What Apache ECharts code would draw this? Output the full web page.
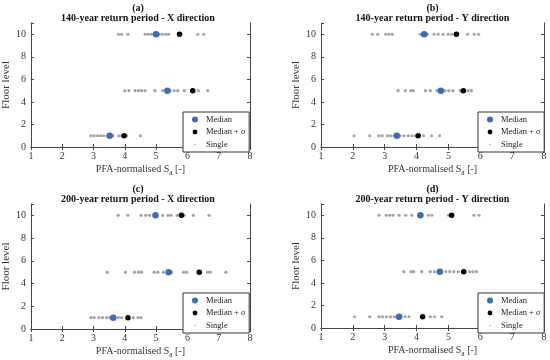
<!DOCTYPE html>
<html><head><meta charset="utf-8">
<script src="https://cdn.jsdelivr.net/npm/echarts@6/dist/echarts.min.js"></script>
<style>html,body{margin:0;padding:0;background:#fff}#c{width:550px;height:360px}</style>
</head><body><div id="c"></div>
<script>
const floors = [1, 5, 10];
const xTicks = [1, 2, 3, 4, 5, 6, 7, 8];
const yTicks = [0, 2, 4, 6, 8, 10];
const panelLetters = ['(a)', '(b)', '(c)', '(d)'];
const panelTitles = ['140-year return period - X direction', '140-year return period - Y direction',
  '200-year return period - X direction', '200-year return period - Y direction'];
const seriesNames = ['Median', 'Median + σ', 'Single'];

// medians / median+sigma per floor (order: floor 1, 5, 10)
const aMedian = [3.52, 5.36, 5.0];
const aMedianSigma = [3.98, 6.17, 5.75];
const bMedian = [3.38, 4.76, 4.24];
const bMedianSigma = [4.05, 5.47, 5.25];
const cMedian = [3.63, 5.4, 4.98];
const cMedianSigma = [4.1, 6.38, 5.81];
const dMedian = [3.45, 4.73, 4.12];
const dMedianSigma = [4.19, 5.48, 5.1];

// single records
const aSingle1 = [2.92, 3.02, 3.13, 3.23, 3.33, 3.44, 3.62, 3.81, 3.9, 4.06, 4.5];
const aSingle5 = [4.0, 4.13, 4.33, 4.44, 4.54, 4.65, 4.96, 5.21, 5.45, 5.58, 5.69, 5.9, 6.35, 6.65];
const aSingle10 = [3.8, 3.9, 4.1, 4.65, 4.75, 4.85, 4.95, 5.1, 5.21, 5.31, 5.4, 6.33, 6.52];
const bSingle1 = [2.04, 2.53, 2.82, 2.92, 3.09, 3.19, 3.3, 3.49, 3.61, 3.74, 3.86, 3.97, 4.22, 4.47, 4.72];
const bSingle5 = [3.42, 3.65, 3.82, 3.9, 4.28, 4.43, 4.64, 4.89, 5.01, 5.14, 5.37, 5.62, 5.72];
const bSingle10 = [2.61, 2.78, 3.03, 3.13, 3.24, 4.11, 4.34, 4.55, 4.68, 4.83, 4.99, 5.1, 5.6, 5.81, 5.95];
const cSingle1 = [2.92, 3.02, 3.17, 3.29, 3.42, 3.52, 3.79, 3.9, 4.27, 4.42, 4.52];
const cSingle5 = [3.44, 4.02, 4.31, 4.44, 4.54, 4.94, 5.06, 5.23, 5.5, 5.88, 5.98, 6.65, 6.73, 7.23];
const cSingle10 = [3.79, 4.1, 4.52, 4.67, 4.79, 5.0, 5.21, 5.38, 5.48, 5.67, 5.9, 6.19, 6.69];
const dSingle1 = [2.05, 2.53, 2.82, 2.93, 3.05, 3.18, 3.3, 3.51, 3.64, 3.76, 4.2, 4.43, 4.56, 4.79];
const dSingle5 = [3.6, 3.83, 3.91, 4.16, 4.43, 4.56, 4.79, 4.92, 5.04, 5.17, 5.31, 5.67, 5.77, 5.88];
const dSingle10 = [2.82, 3.05, 3.16, 3.26, 3.45, 3.66, 3.85, 4.16, 4.37, 4.48, 5.0, 5.8, 5.96];

const panels = [
  {median: aMedian, sigma: aMedianSigma, singles: [aSingle1, aSingle5, aSingle10]},
  {median: bMedian, sigma: bMedianSigma, singles: [bSingle1, bSingle5, bSingle10]},
  {median: cMedian, sigma: cMedianSigma, singles: [cSingle1, cSingle5, cSingle10]},
  {median: dMedian, sigma: dMedianSigma, singles: [dSingle1, dSingle5, dSingle10]}
];

const FONT = 'Liberation Serif';
const AX = '#444';
const grids = [
  {left: 26, top: 23, width: 224, height: 124},
  {left: 321, top: 23, width: 223, height: 124},
  {left: 26, top: 204, width: 224, height: 125},
  {left: 321, top: 204, width: 223, height: 124}
];
const legendPos = [
  {left: 183, top: 112}, {left: 478, top: 112}, {left: 183, top: 293}, {left: 478, top: 293}
];

const xAxis = [], yAxis = [], series = [], titles = [], legends = [];
grids.forEach((g, i) => {
  const common = {min: xTicks[0], max: xTicks[xTicks.length - 1], interval: 1, gridIndex: i, splitLine: {show: false},
    axisLine: {lineStyle: {color: AX, width: 1}}, axisTick: {inside: true, length: 3, lineStyle: {color: AX}}};
  xAxis.push(Object.assign({}, common, {type: 'value', position: 'bottom',
    axisLabel: {fontFamily: FONT, fontSize: 10, color: '#333', margin: 4},
    name: '{t|PFA-normalised S}{s|a}{t| [-]}', nameLocation: 'middle', nameGap: 15,
    nameTextStyle: {rich: {t: {fontFamily: FONT, fontSize: 10, color: '#333'}, s: {fontFamily: FONT, fontSize: 7.5, color: '#333', padding: [7, 0, 0, 0]}}}}));
  xAxis.push(Object.assign({}, common, {type: 'value', position: 'top', axisLabel: {show: false}}));
  const ycommon = {min: 0, max: 11, interval: 2, gridIndex: i, splitLine: {show: false},
    axisLine: {lineStyle: {color: AX, width: 1}}, axisTick: {inside: true, length: 3, lineStyle: {color: AX}}};
  yAxis.push(Object.assign({}, ycommon, {type: 'value', position: 'left',
    axisLabel: {fontFamily: FONT, fontSize: 10, color: '#333', margin: 5,
      formatter: v => yTicks.indexOf(v) >= 0 ? String(v) : ''},
    name: 'Floor level', nameLocation: 'middle', nameGap: 12,
    nameTextStyle: {fontFamily: FONT, fontSize: 11, color: '#333'}}));
  yAxis.push(Object.assign({}, ycommon, {type: 'value', position: 'right', axisLabel: {show: false},
    axisTick: {inside: true, length: 3, lineStyle: {color: AX}, customValues: yTicks}}));

  const p = panels[i];
  const singleData = [];
  p.singles.forEach((arr, k) => arr.forEach(v => singleData.push([v, floors[k]])));
  series.push({type: 'scatter', name: 'Single', xAxisIndex: 2 * i, yAxisIndex: 2 * i,
    data: singleData, symbol: 'circle', symbolSize: 3.2, itemStyle: {color: '#a3a3a3', opacity: 1}, z: 2});
  series.push({type: 'scatter', name: 'Median', xAxisIndex: 2 * i, yAxisIndex: 2 * i,
    data: p.median.map((v, k) => [v, floors[k]]), symbol: 'circle', symbolSize: 6.5, itemStyle: {color: '#3a6db3', opacity: 1}, z: 3});
  series.push({type: 'scatter', name: 'Median + σ', xAxisIndex: 2 * i, yAxisIndex: 2 * i,
    data: p.sigma.map((v, k) => [v, floors[k]]), symbol: 'circle', symbolSize: 5.5, itemStyle: {color: '#000', opacity: 1}, z: 4});

  titles.push({text: panelLetters[i] + '\n' + panelTitles[i], left: g.left + g.width / 2, top: g.top - 20,
    textAlign: 'center', padding: 0,
    textStyle: {fontFamily: FONT, fontSize: 10, fontWeight: 'bold', color: '#111', lineHeight: 10.5}});

  legends.push({left: legendPos[i].left, top: legendPos[i].top, orient: 'vertical',
    data: [
      {name: 'Median', icon: 'circle'},
      {name: 'Median + σ', icon: 'path://M0,0M10,10M1,5a4,4 0 1,0 8,0a4,4 0 1,0 -8,0Z'},
      {name: 'Single', icon: 'path://M0,0M10,10M3.8,5a1.2,1.2 0 1,0 2.4,0a1.2,1.2 0 1,0 -2.4,0Z'}
    ],
    itemWidth: 6, itemHeight: 6, itemGap: 3.5, padding: [3, 4, 3, 9],
    borderColor: '#333', borderWidth: 1, backgroundColor: '#fff', borderRadius: 0,
    textStyle: {fontFamily: FONT, fontSize: 8.5, color: '#222', padding: [0, 0, 0, 3],
      rich: {i: {fontFamily: FONT, fontSize: 8.5, fontStyle: 'italic', color: '#222'}}},
    formatter: n => n === 'Median + σ' ? 'Median + {i|σ}' : n,
    selectedMode: false, z: 10});
});

const chart = echarts.init(document.getElementById('c'), null, {renderer: 'canvas'});
chart.setOption({
  animation: false,
  backgroundColor: '#fff',
  title: titles,
  legend: legends,
  grid: grids.map(g => Object.assign({containLabel: false}, g)),
  xAxis: xAxis,
  yAxis: yAxis,
  series: series
});
</script>
</body></html>
